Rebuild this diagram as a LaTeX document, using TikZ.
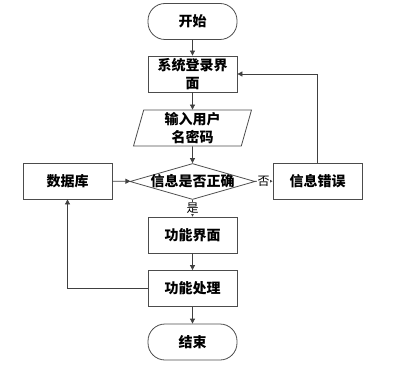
\documentclass[tikz,border=0pt]{standalone}
\usepackage{fontspec}
\setmainfont{Noto Sans CJK SC}
\usetikzlibrary{arrows.meta, shapes.geometric, positioning}
\tikzset{
  box/.style={draw=black!70, line width=0.8pt, minimum width=89pt, minimum height=36pt,
    inner sep=0pt, align=center, font=\fontsize{14}{18}\selectfont\bfseries},
  term/.style={box, rounded corners=17pt},
  io/.style={box, trapezium, trapezium left angle=72, trapezium right angle=108,
    trapezium stretches body, minimum width=118pt},
  decision/.style={draw=black!70, line width=0.8pt, diamond, minimum width=125pt,
    minimum height=36pt, inner sep=0pt},
  flow/.style={draw=black!75, line width=0.8pt, -{Triangle[length=5pt,width=5pt]}},
  yesno/.style={fill=white, inner sep=0.5pt, font=\fontsize{12}{14}\selectfont},
}
\begin{document}
\begin{tikzpicture}[x=1pt, y=-1pt]
\useasboundingbox (0,0) rectangle (409,366);
% main column
\node[term] (start) at (192.5,21.5) {开始};
\node[box] (login) at (192.5,74) {系统登录界\\面};
\node[io] (input) at (192.5,128) {输入用户\\名密码};
\node[decision, label={[font=\fontsize{14}{18}\selectfont\bfseries]center:信息是否正确}] (check) at (192.5,181.5) {};
\node[box] (func) at (192.5,235) {功能界面};
\node[box] (proc) at (192.5,288.5) {功能处理};
\node[term] (stop) at (192.5,342) {结束};
% side boxes
\node[box] (db) at (67.5,181) {数据库};
\node[box] (err) at (317.5,181) {信息错误};
% connectors
\draw[flow] (start) -- (login);
\draw[flow] (login) -- (input);
\draw[flow] (input) -- (check);
\draw[flow] (check) -- node[yesno] {是} (func);
\draw[flow] (check) -- node[yesno] {否} (err);
\draw[flow] (err.north) |- (login.east);
\draw[flow] (func) -- (proc);
\draw[flow] (proc) -- (stop);
\draw[flow] (proc.west) -| (db.south);
\draw[flow] (db) -- (check);
\end{tikzpicture}
\end{document}
